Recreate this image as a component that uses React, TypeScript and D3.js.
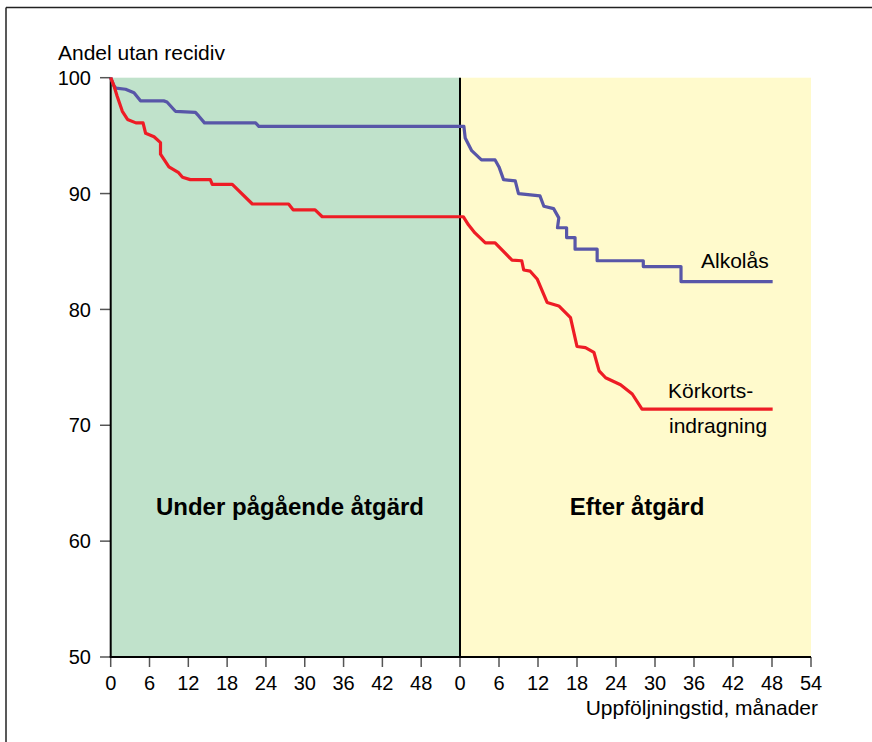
import * as d3 from "d3"
import React from "react"

// Kaplan-Meier style curves
// first half: under ongoing measure, second half: after measure
const alkUnderMonths = [0, 0.5, 0.8, 2.3, 3.6, 4.6, 8.2, 8.7, 10.0, 13.1, 13.6, 14.5, 22.4, 22.9, 54]
const alkUnderValues = [100, 99.3, 99.1, 99.0, 98.7, 98.0, 98.0, 97.9, 97.1, 97.0, 96.7, 96.1, 96.1, 95.8, 95.8]

const korUnderMonths = [0, 0.5, 1.0, 1.8, 2.6, 3.9, 5.0, 5.4, 6.7, 7.7, 7.7, 9.0, 10.5, 11.1, 12.3, 15.4, 15.7, 18.8, 21.9, 27.5, 28.2, 31.6, 32.7, 54]
const korUnderValues = [100, 99.3, 98.4, 97.1, 96.4, 96.1, 96.1, 95.2, 94.9, 94.4, 93.4, 92.3, 91.8, 91.4, 91.2, 91.2, 90.8, 90.8, 89.1, 89.1, 88.6, 88.6, 88.0, 88.0]

const alkEfterMonths = [0, 0.6, 0.8, 1.8, 3.3, 5.4, 6.0, 6.7, 8.5, 9.0, 12.3, 12.9, 14.4, 15.2, 15.0, 16.4, 16.4, 17.7, 17.7, 21.1, 21.1, 28.2, 28.2, 34.0, 34.0, 48.1]
const alkEfterValues = [95.8, 95.8, 94.8, 93.7, 92.9, 92.9, 92.3, 91.2, 91.1, 90.0, 89.8, 88.9, 88.7, 87.9, 87.05, 87.05, 86.2, 86.2, 85.2, 85.2, 84.2, 84.2, 83.7, 83.7, 82.4, 82.4]

const korEfterMonths = [0, 0.5, 1.3, 2.3, 3.9, 5.4, 8.0, 9.5, 9.8, 10.8, 11.9, 13.4, 15.2, 17.0, 18.0, 19.3, 20.6, 21.4, 22.4, 24.7, 26.5, 28.0, 48.1]
const korEfterValues = [88.0, 88.0, 87.3, 86.6, 85.75, 85.75, 84.25, 84.2, 83.4, 83.3, 82.6, 80.6, 80.3, 79.3, 76.8, 76.7, 76.3, 74.7, 74.1, 73.5, 72.7, 71.4, 71.4]

const yTicks = [50, 60, 70, 80, 90, 100]
const xTicksUnder = [0, 6, 12, 18, 24, 30, 36, 42, 48]
const xTicksEfter = [0, 6, 12, 18, 24, 30, 36, 42, 48, 54]

const width = 872,
  height = 742
const font = "Arial, 'Liberation Sans', Helvetica, sans-serif"

export default function App() {
  const xUnder = d3.scaleLinear().domain([0, 54]).range([110.7, 460])
  const xEfter = d3.scaleLinear().domain([0, 54]).range([460, 811])
  const y = d3.scaleLinear().domain([50, 100]).range([657, 77.7])

  const makePath = (x: d3.ScaleLinear<number, number>, months: number[], values: number[]) =>
    d3
      .line<number>()
      .x((m) => x(m))
      .y((_, i) => y(values[i]))(months)

  const blue = "#5856a8"
  const red = "#ee1c25"

  return (
    <svg
      width={width}
      height={height}
      style={{ position: "absolute", left: 0, top: 0, background: "white" }}
      fontFamily={font}
    >
      {/* frame */}
      <line x1={6} x2={width} y1={7.5} y2={7.5} stroke="#222" strokeWidth={1.5} />
      <line x1={6} x2={6} y1={7.5} y2={height} stroke="#222" strokeWidth={1.5} />

      {/* backgrounds */}
      <rect x={xUnder(0)} y={y(100)} width={xUnder(54) - xUnder(0)} height={y(50) - y(100)} fill="#c0e2cb" />
      <rect x={xEfter(0)} y={y(100)} width={xEfter(54) - xEfter(0)} height={y(50) - y(100)} fill="#fffacc" />

      <text x={58} y={60} fontSize={21}>Andel utan recidiv</text>

      {/* y axis */}
      {yTicks.map((t) => (
        <g key={t}>
          <line x1={100} x2={xUnder(0)} y1={y(t)} y2={y(t)} stroke="#555" strokeWidth={1.5} />
          <text x={91} y={y(t)} dy="0.36em" textAnchor="end" fontSize={20}>
            {t}
          </text>
        </g>
      ))}

      {/* x axis */}
      {xTicksUnder.map((t) => (
        <g key={"u" + t}>
          <line x1={xUnder(t)} x2={xUnder(t)} y1={y(50)} y2={y(50) + 10} stroke="#555" strokeWidth={1.5} />
          <text x={xUnder(t)} y={690} textAnchor="middle" fontSize={20}>
            {t}
          </text>
        </g>
      ))}
      {xTicksEfter.map((t) => (
        <g key={"e" + t}>
          <line x1={xEfter(t)} x2={xEfter(t)} y1={y(50)} y2={y(50) + 10} stroke="#555" strokeWidth={1.5} />
          <text x={xEfter(t)} y={690} textAnchor="middle" fontSize={20}>
            {t}
          </text>
        </g>
      ))}
      <text x={818} y={715} textAnchor="end" fontSize={21}>Uppföljningstid, månader</text>

      {/* axis lines and divider */}
      <line x1={xUnder(0)} x2={xUnder(0)} y1={y(100)} y2={y(50)} stroke="#000" strokeWidth={2} />
      <line x1={xEfter(0)} x2={xEfter(0)} y1={y(100)} y2={y(50)} stroke="#000" strokeWidth={2} />
      <line x1={xUnder(0) - 1} x2={xEfter(54)} y1={y(50)} y2={y(50)} stroke="#000" strokeWidth={2} />

      {/* curves */}
      <path d={makePath(xUnder, alkUnderMonths, alkUnderValues)} fill="none" stroke={blue} strokeWidth={3.2} strokeLinejoin="round" />
      <path d={makePath(xUnder, korUnderMonths, korUnderValues)} fill="none" stroke={red} strokeWidth={3.2} strokeLinejoin="round" />
      <path d={makePath(xEfter, alkEfterMonths, alkEfterValues)} fill="none" stroke={blue} strokeWidth={3.2} strokeLinejoin="round" />
      <path d={makePath(xEfter, korEfterMonths, korEfterValues)} fill="none" stroke={red} strokeWidth={3.2} strokeLinejoin="round" />

      {/* labels */}
      <text x={701} y={268} fontSize={21}>Alkolås</text>
      <text x={668} y={398} fontSize={21}>Körkorts-</text>
      <text x={669} y={433} fontSize={21}>indragning</text>

      <text x={290} y={515} textAnchor="middle" fontSize={24} fontWeight="bold">Under pågående åtgärd</text>
      <text x={637} y={515} textAnchor="middle" fontSize={24} fontWeight="bold">Efter åtgärd</text>
    </svg>
  )
}
